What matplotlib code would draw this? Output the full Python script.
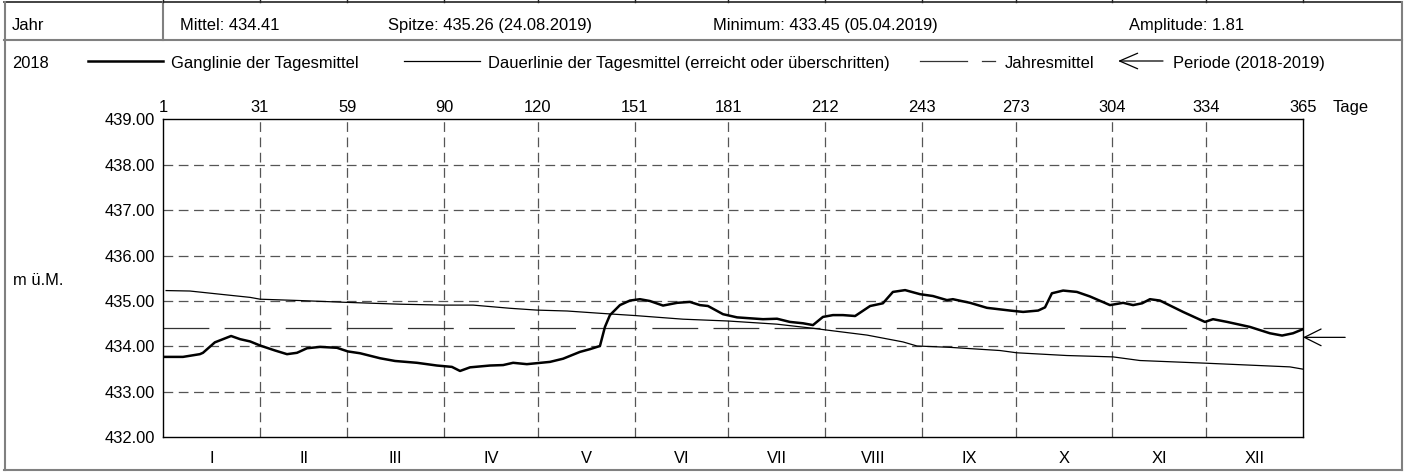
import matplotlib
matplotlib.use("Agg")
import matplotlib.pyplot as plt
import matplotlib.transforms as mtransforms
from matplotlib.lines import Line2D

plt.rcParams['font.family'] = ['Liberation Sans', 'DejaVu Sans']
plt.rcParams['lines.scale_dashes'] = False

# --------- Daten ---------
# Ganglinie der Tagesmittel 2018 (Tag, m ü.M.)
gang_day = [0, 6.4, 11.8, 12.8, 16.6, 21.8, 24.7, 27.9, 31.1, 35.9, 39.7, 42.9, 46.1,
            50.3, 55.7, 59.2, 63.1, 69.5, 74.3, 81.3, 87.7, 92.5, 95.1, 98.3, 104.7,
            108.9, 112.1, 116.5, 123.9, 128.1, 133.5, 136.7, 139.9, 141.5, 143.1,
            146.3, 149.5, 152.7, 155.9, 160.1, 164.6, 168.7, 171.9, 174.5, 179.3,
            183.8, 187.9, 192.1, 196.6, 200.7, 204.9, 208.1, 211.3, 214.5, 217.7,
            221.6, 226.4, 230.5, 233.7, 237.6, 242.4, 246.5, 251.0, 252.9, 258.4,
            263.8, 271.2, 275.4, 280.2, 282.4, 284.6, 288.2, 292.6, 296.8, 303.2,
            307.4, 310.6, 313.5, 316.0, 319.2, 326.6, 333.6, 336.2, 340.7, 348.0,
            354.4, 358.3, 361.8, 365]
gang_val = [433.77, 433.77, 433.83, 433.86, 434.09, 434.23, 434.16, 434.11, 434.02,
            433.91, 433.83, 433.86, 433.96, 433.99, 433.97, 433.89, 433.85, 433.74,
            433.68, 433.64, 433.58, 433.55, 433.46, 433.54, 433.58, 433.59, 433.64,
            433.61, 433.66, 433.73, 433.88, 433.94, 434.01, 434.43, 434.69, 434.91,
            435.01, 435.04, 435.00, 434.90, 434.96, 434.98, 434.91, 434.89, 434.71,
            434.64, 434.62, 434.60, 434.61, 434.54, 434.51, 434.47, 434.65, 434.69,
            434.69, 434.67, 434.89, 434.95, 435.20, 435.24, 435.15, 435.11, 435.02,
            435.04, 434.96, 434.85, 434.79, 434.76, 434.79, 434.86, 435.17, 435.23,
            435.20, 435.10, 434.91, 434.96, 434.91, 434.95, 435.04, 435.01, 434.76,
            434.54, 434.60, 434.54, 434.43, 434.29, 434.24, 434.29, 434.38]

# Dauerlinie der Tagesmittel (erreicht oder überschritten)
dauer_day = [1.0, 8.6, 18.2, 27.9, 31.1, 43.9, 58.9, 75.9, 89.6, 99.3, 111.1, 119.7,
             129.4, 139.9, 151.1, 166.5, 180.9, 196.6, 208.1, 212.6, 225.4, 236.9,
             241.4, 252.0, 268.0, 273.4, 289.4, 304.2, 312.8, 334.3, 360.8, 365]
dauer_val = [435.23, 435.22, 435.15, 435.08, 435.04, 435.01, 434.97, 434.93, 434.91,
             434.91, 434.84, 434.80, 434.78, 434.73, 434.68, 434.60, 434.56, 434.49,
             434.40, 434.36, 434.25, 434.10, 434.01, 433.98, 433.91, 433.86, 433.80,
             433.77, 433.69, 433.63, 433.55, 433.50]

jahresmittel = 434.41
periode_mittel = 434.20

month_bounds = [31, 59, 90, 120, 151, 181, 212, 243, 273, 304, 334]
top_ticks = [0] + month_bounds + [365]
top_labels = ['1', '31', '59', '90', '120', '151', '181', '212', '243', '273', '304', '334', '365']
month_names = ['I', 'II', 'III', 'IV', 'V', 'VI', 'VII', 'VIII', 'IX', 'X', 'XI', 'XII']
y_ticks = [432, 433, 434, 435, 436, 437, 438, 439]

header = [(12, 'Jahr'), (180, 'Mittel: 434.41'), (388, 'Spitze: 435.26 (24.08.2019)'),
          (713, 'Minimum: 433.45 (05.04.2019)'), (1129, 'Amplitude: 1.81')]

W, H = 1406, 472
FS = 11.9
fig = plt.figure(figsize=(W / 100, H / 100), dpi=100)
ax = fig.add_axes([163 / W, 1 - 437.3 / H, 1140 / W, 318 / H])


def fx(x):
    return x / W


def fy(y):
    return 1 - y / H


# --------- Rahmen / Tabelle ---------
gray = '#808080'
fig.add_artist(Line2D([fx(4), fx(1402)], [fy(2), fy(2)], color='#222222', lw=1.2, transform=fig.transFigure))
fig.add_artist(Line2D([fx(4), fx(1402)], [fy(40), fy(40)], color=gray, lw=1.5, transform=fig.transFigure))
fig.add_artist(Line2D([fx(4), fx(1402)], [fy(470), fy(470)], color=gray, lw=1.5, transform=fig.transFigure))
fig.add_artist(Line2D([fx(5), fx(5)], [fy(2), fy(470)], color=gray, lw=1.5, transform=fig.transFigure))
fig.add_artist(Line2D([fx(1402), fx(1402)], [fy(2), fy(470)], color=gray, lw=1.5, transform=fig.transFigure))
fig.add_artist(Line2D([fx(163), fx(163)], [fy(2), fy(40)], color=gray, lw=1.5, transform=fig.transFigure))

# Reste des Diagramms darüber
blend = mtransforms.blended_transform_factory(ax.transData, fig.transFigure)
for d in top_ticks:
    fig.add_artist(Line2D([d, d], [fy(0), fy(2)], color='#222222', lw=1, transform=blend))

for x, t in header:
    fig.text(fx(x), fy(30), t, fontsize=FS, va='baseline', ha='left')

# --------- Legende ---------
fig.text(fx(12), fy(68), '2018', fontsize=FS, va='baseline')
fig.add_artist(Line2D([fx(88), fx(163)], [fy(61), fy(61)], color='black', lw=1.8, transform=fig.transFigure))
fig.text(fx(171), fy(68), 'Ganglinie der Tagesmittel', fontsize=FS, va='baseline')
fig.add_artist(Line2D([fx(404), fx(480)], [fy(61), fy(61)], color='black', lw=0.9, transform=fig.transFigure))
fig.text(fx(488), fy(68), 'Dauerlinie der Tagesmittel (erreicht oder überschritten)', fontsize=FS, va='baseline')
fig.add_artist(Line2D([fx(920), fx(967)], [fy(61), fy(61)], color='#333333', lw=0.9, transform=fig.transFigure))
fig.add_artist(Line2D([fx(982), fx(995)], [fy(61), fy(61)], color='#333333', lw=0.9, transform=fig.transFigure))
fig.text(fx(1005), fy(68), 'Jahresmittel', fontsize=FS, va='baseline')
fig.add_artist(plt.Annotation('', xy=(fx(1118), fy(61)), xytext=(fx(1163), fy(61)),
                              xycoords='figure fraction', textcoords='figure fraction',
                              arrowprops=dict(arrowstyle='->, head_length=0.65, head_width=0.28',
                                              lw=0.9, color='black', mutation_scale=20,
                                              shrinkA=0, shrinkB=0)))
fig.text(fx(1173), fy(68), 'Periode (2018-2019)', fontsize=FS, va='baseline')
fig.text(fx(13), fy(285), 'm ü.M.', fontsize=FS, va='baseline')

# --------- Diagramm ---------
for d in month_bounds:
    ax.axvline(d, color='#555555', lw=0.9, linestyle=(0, (7, 4)), zorder=1)
for v in y_ticks[1:-1]:
    ax.axhline(v, color='#555555', lw=0.9, linestyle=(0, (7, 4)), zorder=1)

ax.axhline(jahresmittel, color='#333333', lw=0.9, linestyle=(0, (33, 11)), zorder=2)
ax.plot(dauer_day, dauer_val, color='black', lw=0.9, zorder=3)
ax.plot(gang_day, gang_val, color='black', lw=1.8, zorder=4)

ax.annotate('', xy=(365, periode_mittel), xytext=(378.5, periode_mittel),
            arrowprops=dict(arrowstyle='->, head_length=0.6, head_width=0.3', lw=0.9,
                            color='black', mutation_scale=20, shrinkA=0, shrinkB=0),
            annotation_clip=False)

ax.set_xlim(0, 365)
ax.set_ylim(432, 439)
ax.set_yticks(y_ticks)
ax.set_yticklabels([f'{v:.2f}' for v in y_ticks], fontsize=FS)
ax.tick_params(axis='y', length=0, pad=6)

month_mid = [(a + b) / 2 for a, b in zip(top_ticks[:-1], top_ticks[1:])]
ax.set_xticks(month_mid)
ax.set_xticklabels(month_names, fontsize=FS)
ax.tick_params(axis='x', length=0, pad=10)

top = ax.secondary_xaxis('top')
top.set_xticks(top_ticks)
top.set_xticklabels(top_labels, fontsize=FS)
top.tick_params(length=0, pad=3)
top.spines['top'].set_visible(False)
fig.text(fx(1333), fy(111.7), 'Tage', fontsize=FS, va='baseline', ha='left')

for s in ax.spines.values():
    s.set_linewidth(1.0)
    s.set_color('black')

fig.savefig('out.png', dpi=100)
